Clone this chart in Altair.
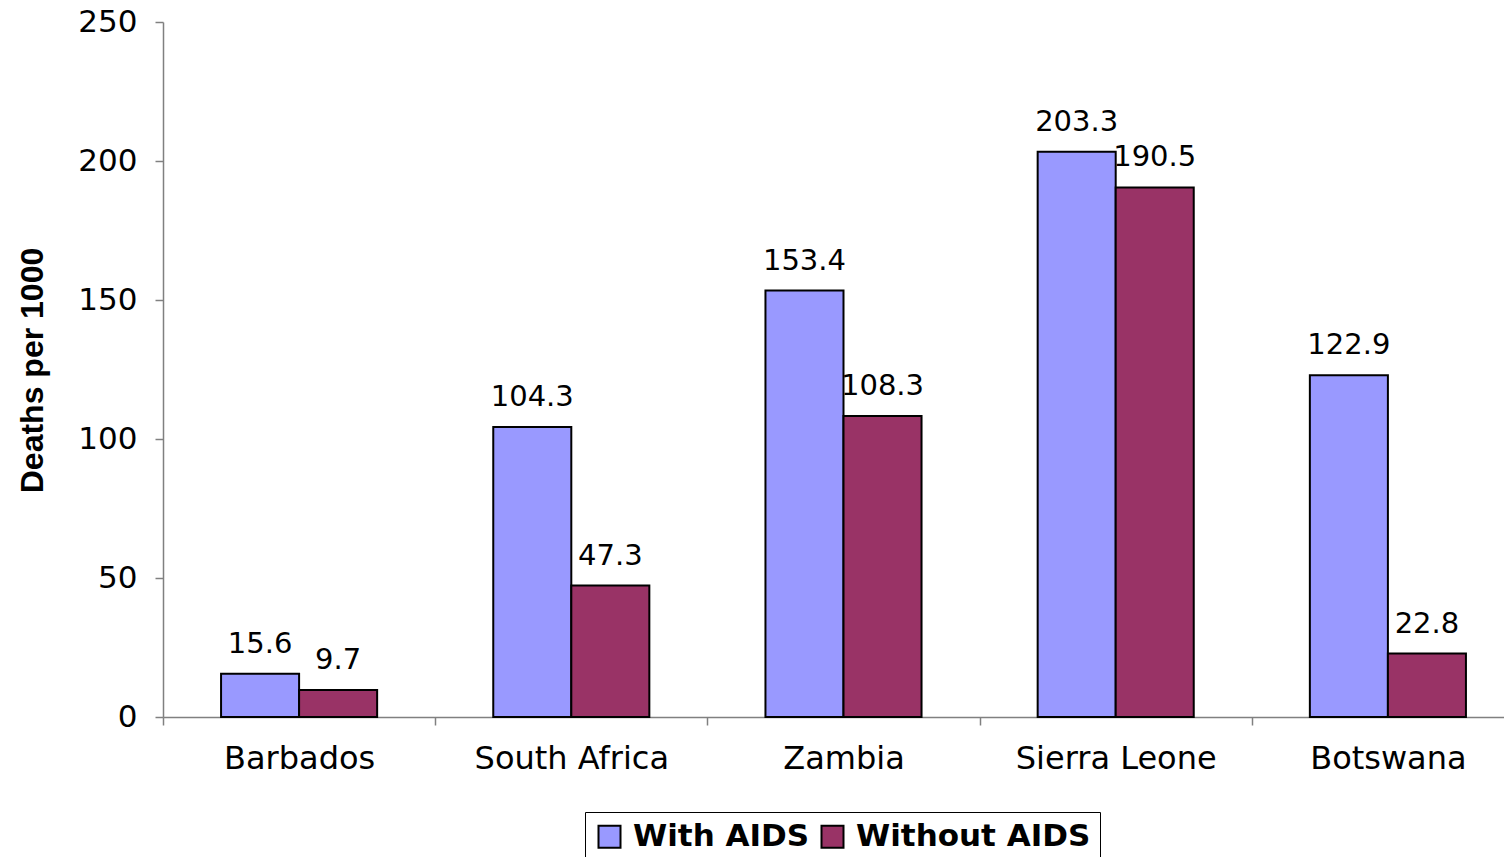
import altair as alt
import pandas as pd

countries = ["Barbados", "South Africa", "Zambia", "Sierra Leone", "Botswana"]
with_aids = [15.6, 104.3, 153.4, 203.3, 122.9]
without_aids = [9.7, 47.3, 108.3, 190.5, 22.8]
series = ["With AIDS", "Without AIDS"]
colors = ["#9999FF", "#993366"]

rows = []
for c, a, b in zip(countries, with_aids, without_aids):
    rows.append({"country": c, "series": series[0], "value": a})
    rows.append({"country": c, "series": series[1], "value": b})
df = pd.DataFrame(rows)

FONT = "DejaVu Sans"
TFONT = "Liberation Sans"

x = alt.X("country:N", sort=countries, title=None,
          scale=alt.Scale(paddingInner=0, paddingOuter=0, range=[0, 1361]),
          axis=alt.Axis(labelAngle=0, labelFontSize=32, labelColor="black", labelFont=FONT,
                        labelPadding=18, tickBand="extent", tickSize=8, tickColor="#808080",
                        domainColor="#808080", domainWidth=1.5, tickWidth=1.5, grid=False,
                        labelLimit=400))
xo = alt.XOffset("series:N", sort=series,
                 scale=alt.Scale(paddingInner=0, paddingOuter=0.744))
y = alt.Y("value:Q", title="Deaths per 1000",
          scale=alt.Scale(domain=[0, 250], nice=False),
          axis=alt.Axis(values=[0, 50, 100, 150, 200, 250], labelFontSize=31, labelColor="black",
                        labelFont=FONT, labelPadding=18, tickSize=8, tickColor="#808080",
                        domainColor="#808080", domainWidth=1.5, tickWidth=1.5, grid=False,
                        titleFont=TFONT, titleFontSize=32, titleFontWeight="bold", titleColor="black",
                        titleAngle=270, titleX=-131, titleY=348, titleAlign="center",
                        titleBaseline="middle"))

bars = alt.Chart(df).mark_bar(stroke="black", strokeWidth=2).encode(
    x=x, xOffset=xo, y=y,
    color=alt.Color("series:N", sort=series, title=None,
                    scale=alt.Scale(domain=series, range=colors),
                    legend=alt.Legend(orient="none", legendX=422, legendY=790, direction="horizontal",
                                      strokeColor="black", fillColor="white", padding=9,
                                      labelFont=FONT, labelFontSize=31, labelFontWeight="bold",
                                      labelColor="black", symbolType="square", symbolSize=484,
                                      symbolStrokeColor="black", symbolStrokeWidth=2,
                                      labelOffset=8, columnPadding=7, labelLimit=400)),
)

labels = alt.Chart(df).mark_text(font=FONT, fontSize=29, color="black", align="center",
                                 baseline="alphabetic", dy=-21).encode(
    x=alt.X("country:N", sort=countries), xOffset=alt.XOffset("series:N", sort=series),
    y="value:Q", text=alt.Text("value:Q", format=".1f"),
)

chart = (bars + labels).properties(
    width=1341, height=695,
    background="white",
    autosize=alt.AutoSizeParams(type="none"),
    padding={"left": 155, "top": 14, "right": 0, "bottom": 140},
).configure_view(strokeWidth=0, stroke="transparent")

chart.save("out.html", embed_options={"renderer": "svg", "actions": False})
